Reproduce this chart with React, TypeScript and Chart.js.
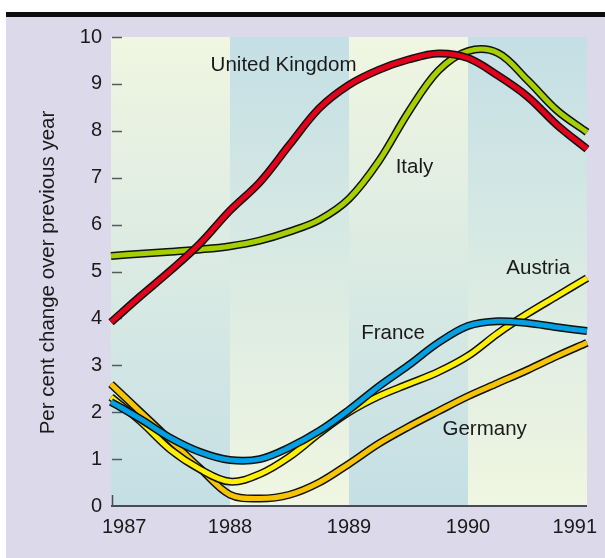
import React, { useEffect, useRef } from "react";
import { Chart, registerables } from "chart.js";

Chart.register(...registerables);

// ---- data ----
const years = [
  1987, 1987.25, 1987.5, 1987.75, 1988, 1988.25, 1988.5, 1988.75, 1989,
  1989.25, 1989.5, 1989.75, 1990, 1990.25, 1990.5, 1990.75, 1991,
];
const unitedKingdom = [3.92, 4.48, 5.02, 5.6, 6.3, 6.9, 7.7, 8.48, 8.98, 9.3, 9.52, 9.65, 9.55, 9.18, 8.73, 8.12, 7.61];
const italy = [5.33, 5.38, 5.42, 5.47, 5.54, 5.66, 5.85, 6.1, 6.55, 7.35, 8.4, 9.28, 9.7, 9.66, 9.08, 8.43, 7.97];
const france = [2.22, 1.85, 1.45, 1.15, 0.98, 1.0, 1.25, 1.6, 2.05, 2.55, 3.0, 3.48, 3.84, 3.94, 3.9, 3.81, 3.73];
const austria = [2.32, 1.8, 1.2, 0.78, 0.52, 0.68, 1.05, 1.55, 2.0, 2.34, 2.6, 2.86, 3.2, 3.68, 4.1, 4.48, 4.86];
const germany = [2.6, 2.0, 1.4, 0.8, 0.24, 0.16, 0.24, 0.5, 0.9, 1.33, 1.69, 2.02, 2.34, 2.62, 2.9, 3.2, 3.48];

const xTickLabels = [1987, 1988, 1989, 1990, 1991];
const yTickValues = [0, 1, 2, 3, 4, 5, 6, 7, 8, 9, 10];

const seriesNames = ["United Kingdom", "Italy", "France", "Austria", "Germany"];
const labelYears = [1988.45, 1989.55, 1989.37, 1990.59, 1990.14];
const labelValues = [9.4, 7.23, 3.69, 5.07, 1.64];

const yTitle = "Per cent change over previous year";

// ---- styles ----
const FONT = "'Liberation Sans', Arial, Helvetica, sans-serif";
const TEXT = "#1a1a1a";
const CREAM = "#f0f6e1";
const BLUE = "#c4dfe5";
const LAVENDER = "#dcdaea";

const seriesData = [unitedKingdom, italy, france, austria, germany];
const seriesColors = ["#e3001b", "#a6cf00", "#00a0e2", "#fff000", "#f6c500"];
// drawing order from top (0) to bottom
const stackRank = [0, 1, 2, 3, 4];

const decor = {
  id: "decor",
  beforeDatasetsDraw(chart: any) {
    const { ctx, chartArea: a, scales } = chart;
    const x = scales.x;
    const y = scales.y;
    ctx.save();
    for (let i = 0; i < xTickLabels.length - 1; i++) {
      const x0 = x.getPixelForValue(xTickLabels[i]);
      const x1 = x.getPixelForValue(xTickLabels[i + 1]);
      const g = ctx.createLinearGradient(0, a.top, 0, a.bottom);
      if (i % 2 === 0) {
        g.addColorStop(0, CREAM);
        g.addColorStop(1, BLUE);
      } else {
        g.addColorStop(0, BLUE);
        g.addColorStop(1, CREAM);
      }
      ctx.fillStyle = g;
      ctx.fillRect(x0, a.top, x1 - x0, a.bottom - a.top);
    }
    ctx.strokeStyle = "#555a60";
    ctx.lineWidth = 1.5;
    yTickValues.forEach((v) => {
      if (v === 0) return;
      const py = Math.round(y.getPixelForValue(v)) + 0.5;
      ctx.beginPath();
      ctx.moveTo(a.left + 1, py);
      ctx.lineTo(a.left + 11, py);
      ctx.stroke();
    });
    ctx.strokeStyle = "#474c52";
    ctx.lineWidth = 2;
    ctx.beginPath();
    ctx.moveTo(a.left, a.bottom);
    ctx.lineTo(a.right, a.bottom);
    ctx.stroke();
    ctx.lineWidth = 1.5;
    ctx.beginPath();
    ctx.moveTo(a.left + 1.5, a.bottom);
    ctx.lineTo(a.left + 1.5, a.bottom - 11);
    ctx.stroke();
    ctx.restore();
  },
  afterDatasetsDraw(chart: any) {
    const { ctx, scales } = chart;
    ctx.save();
    ctx.fillStyle = TEXT;
    ctx.font = `20.5px ${FONT}`;
    ctx.textAlign = "center";
    ctx.textBaseline = "middle";
    seriesNames.forEach((n, i) => {
      ctx.fillText(n, scales.x.getPixelForValue(labelYears[i]), scales.y.getPixelForValue(labelValues[i]));
    });
    ctx.restore();
  },
  afterDraw(chart: any) {
    const { ctx, chartArea: a, scales } = chart;
    ctx.save();
    ctx.fillStyle = TEXT;
    ctx.font = `20px ${FONT}`;
    ctx.textBaseline = "middle";
    ctx.textAlign = "left";
    xTickLabels.forEach((v) => {
      const s = String(v);
      const w = ctx.measureText(s).width;
      let left = scales.x.getPixelForValue(v) - w / 2;
      left = Math.max(left, a.left - 9);
      left = Math.min(left, a.right + 10 - w);
      ctx.fillText(s, left, a.bottom + 21);
    });
    ctx.translate(48, (a.top + a.bottom) / 2 + 1);
    ctx.rotate(-Math.PI / 2);
    ctx.textAlign = "center";
    ctx.font = `20.5px ${FONT}`;
    ctx.fillText(yTitle, 0, 0);
    ctx.restore();
  },
};

export default function App() {
  const ref = useRef<HTMLCanvasElement | null>(null);

  useEffect(() => {
    if (!ref.current) return;
    const datasets: any[] = [];
    seriesData.forEach((vals, i) => {
      const pts = years.map((t, j) => ({ x: t, y: vals[j] }));
      const rank = stackRank[i];
      datasets.push({
        label: seriesNames[i] + " outline",
        data: pts,
        borderColor: "#111111",
        borderWidth: 8,
        pointRadius: 0,
        fill: false,
        tension: 0.35,
        order: rank * 2 + 1,
        clip: 8,
      });
      datasets.push({
        label: seriesNames[i],
        data: pts,
        borderColor: seriesColors[i],
        borderWidth: 5,
        pointRadius: 0,
        fill: false,
        tension: 0.35,
        order: rank * 2,
        clip: 8,
      });
    });

    const chart = new Chart(ref.current, {
      type: "line",
      data: { datasets },
      plugins: [decor],
      options: {
        animation: false,
        responsive: true,
        maintainAspectRatio: false,
        layout: { padding: { left: 0, right: 18, top: 37, bottom: 52 } },
        plugins: { legend: { display: false }, tooltip: { enabled: false } },
        scales: {
          x: {
            type: "linear",
            min: xTickLabels[0],
            max: xTickLabels[xTickLabels.length - 1],
            display: false,
          },
          y: {
            min: 0,
            max: 10,
            afterFit: (s: any) => {
              s.width = 111;
            },
            grid: { display: false, drawTicks: false },
            border: { display: false },
            ticks: {
              stepSize: 1,
              padding: 9,
              color: TEXT,
              font: { family: FONT, size: 20 },
            },
          },
        },
      },
    });
    return () => chart.destroy();
  }, []);

  return (
    <div style={{ position: "absolute", left: 0, top: 0, width: 605, height: 558, background: "#ffffff" }}>
      <div style={{ position: "absolute", left: 6, top: 12, width: 599, height: 5, background: "#0d0d0d" }} />
      <div style={{ position: "absolute", left: 6, top: 17, width: 599, height: 541, background: LAVENDER }} />
      <div style={{ position: "absolute", left: 0, top: 0, width: 605, height: 558 }}>
        <canvas ref={ref} />
      </div>
    </div>
  );
}
